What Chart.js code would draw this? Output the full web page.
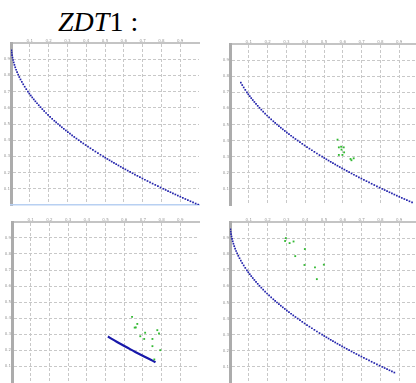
<!DOCTYPE html>
<html>
<head>
<meta charset="utf-8">
<script src="https://cdn.jsdelivr.net/npm/chart.js@4"></script>
<style>
  html, body { margin: 0; padding: 0; background: #fff; overflow: hidden; width: 416px; height: 383px; }
  #title { position: absolute; left: 58px; top: 8px; font-family: "Liberation Serif", "Times New Roman", serif;
           font-size: 28px; line-height: 28px; color: #000; white-space: pre; }
  #title i { font-style: italic; }
  canvas { position: absolute; }
</style>
</head>
<body>
<div id="title"><i>ZDT</i>1 :</div>
<canvas id="p1"></canvas>
<canvas id="p2"></canvas>
<canvas id="p3"></canvas>
<canvas id="p4"></canvas>
<script>
// ZDT1 Pareto front samples (f1, f2)
const frontF1 = [
  0.0020, 0.0036, 0.0056, 0.0081, 0.0110, 0.0144, 0.0182, 0.0225, 0.0272, 0.0324,
  0.0380, 0.0441, 0.0506, 0.0576, 0.0650, 0.0729, 0.0812, 0.0900,
  0.0973, 0.1050, 0.1129, 0.1211, 0.1296, 0.1384, 0.1475, 0.1568, 0.1665, 0.1764,
  0.1866, 0.1971, 0.2079, 0.2190, 0.2304, 0.2401, 0.2500,
  0.2601, 0.2704, 0.2809, 0.2916, 0.3025, 0.3136, 0.3249, 0.3364, 0.3481, 0.3600,
  0.3721, 0.3844, 0.3969, 0.4096, 0.4225, 0.4356, 0.4489, 0.4624, 0.4761, 0.4900,
  0.5013, 0.5127, 0.5242, 0.5358, 0.5476, 0.5595, 0.5715, 0.5837, 0.5960, 0.6084,
  0.6209, 0.6336, 0.6464, 0.6593, 0.6724, 0.6856, 0.6989, 0.7123, 0.7259, 0.7396,
  0.7534, 0.7674, 0.7815, 0.7957, 0.8100,
  0.8226, 0.8354, 0.8482, 0.8612, 0.8742, 0.8874, 0.9006, 0.9139, 0.9274, 0.9409,
  0.9545, 0.9683, 0.9821, 0.9960
];
const frontF2 = [
  0.955, 0.940, 0.925, 0.910, 0.895, 0.880, 0.865, 0.850, 0.835, 0.820,
  0.805, 0.790, 0.775, 0.760, 0.745, 0.730, 0.715, 0.700,
  0.688, 0.676, 0.664, 0.652, 0.640, 0.628, 0.616, 0.604, 0.592, 0.580,
  0.568, 0.556, 0.544, 0.532, 0.520, 0.510, 0.500,
  0.490, 0.480, 0.470, 0.460, 0.450, 0.440, 0.430, 0.420, 0.410, 0.400,
  0.390, 0.380, 0.370, 0.360, 0.350, 0.340, 0.330, 0.320, 0.310, 0.300,
  0.292, 0.284, 0.276, 0.268, 0.260, 0.252, 0.244, 0.236, 0.228, 0.220,
  0.212, 0.204, 0.196, 0.188, 0.180, 0.172, 0.164, 0.156, 0.148, 0.140,
  0.132, 0.124, 0.116, 0.108, 0.100,
  0.093, 0.086, 0.079, 0.072, 0.065, 0.058, 0.051, 0.044, 0.037, 0.030,
  0.023, 0.016, 0.009, 0.002
];

// f1 span of the front shown in each panel
const rangeP1 = [0.0, 1.0];
const rangeP2 = [0.055, 0.975];
const rangeP3 = [0.51, 0.78];
const rangeP4 = [0.0, 0.88];

// Reference points (green)
const greenP2F1 = [0.572, 0.579, 0.591, 0.605, 0.593, 0.607, 0.579, 0.598, 0.641, 0.646, 0.658];
const greenP2F2 = [0.406, 0.358, 0.362, 0.358, 0.344, 0.327, 0.311, 0.311, 0.286, 0.278, 0.290];
const greenP3F1 = [0.642, 0.670, 0.656, 0.662, 0.686, 0.712, 0.707, 0.751, 0.777, 0.786, 0.751, 0.793, 0.761];
const greenP3F2 = [0.407, 0.363, 0.340, 0.341, 0.286, 0.308, 0.269, 0.269, 0.324, 0.303, 0.224, 0.199, 0.141];
const greenP4F1 = [0.297, 0.293, 0.317, 0.338, 0.398, 0.347, 0.396, 0.452, 0.499, 0.462];
const greenP4F2 = [0.900, 0.882, 0.869, 0.879, 0.832, 0.788, 0.733, 0.718, 0.735, 0.645];

const tickLabels = ['0.1', '0.2', '0.3', '0.4', '0.5', '0.6', '0.7', '0.8', '0.9'];

// Layout of each plot area on the page
const LEFT_W = 10, TOP_H = 8, PAD_R = 2, PAD_B = 3;
const GRID = '#c8c8c8';
const BLUE = '#2424ac';
const GREEN = '#34ba34';

function pairs(xs, ys) { return xs.map((x, i) => ({ x: x, y: ys[i] })); }

function makePanel(cfg) {
  const cv = document.getElementById(cfg.id);
  const W = LEFT_W + cfg.w + PAD_R, H = TOP_H + cfg.h + PAD_B;
  cv.width = W; cv.height = H;
  cv.style.width = W + 'px'; cv.style.height = H + 'px';
  cv.style.left = (cfg.x - LEFT_W) + 'px';
  cv.style.top = (cfg.y - TOP_H) + 'px';

  const front = pairs(frontF1, frontF2).filter(p => p.x >= cfg.range[0] && p.x <= cfg.range[1]);
  const datasets = [];
  if (cfg.asLine) {
    datasets.push({ data: front, showLine: true, borderColor: '#1818aa', borderWidth: 2.2,
                    pointRadius: 0, fill: false, order: 2 });
  } else {
    datasets.push({ data: front, showLine: false, pointStyle: 'rect', pointRadius: 1.2,
                    backgroundColor: BLUE, borderWidth: 0, order: 2 });
  }
  if (cfg.green) {
    datasets.push({ data: pairs(cfg.green[0], cfg.green[1]), showLine: false, pointStyle: 'rect',
                    pointRadius: 1.3, backgroundColor: GREEN, borderWidth: 0, order: 1 });
  }

  const inner = c => c.tick && c.tick.value > 0.001 && c.tick.value < 0.999;
  const label = v => { const k = Math.round(v * 10); return (k >= 1 && k <= 9) ? tickLabels[k - 1] : ''; };
  const tickFont = { family: 'DejaVu Sans', size: 4 };

  const scales = {
    x: {
      type: 'linear', position: 'top', min: 0, max: 1,
      ticks: { stepSize: 0.1, autoSkip: false, maxRotation: 0, font: tickFont, color: '#9a9a9a',
               padding: 0, callback: label },
      grid: { color: c => inner(c) ? GRID : 'transparent', lineWidth: 1, drawTicks: false },
      border: { display: true, color: '#c4c4c4', width: 2, dash: [3, 2] },
      afterFit: s => { s.height = TOP_H; }
    },
    y: {
      type: 'linear', position: 'left', min: 0, max: 1,
      ticks: { stepSize: 0.1, autoSkip: false, font: tickFont, color: '#9a9a9a',
               padding: 1, callback: label },
      grid: { color: c => inner(c) ? GRID : 'transparent', lineWidth: 1, drawTicks: false },
      border: { display: true, color: '#acacac', width: 3, dash: [3, 2] },
      afterFit: s => { s.width = LEFT_W; }
    }
  };
  if (cfg.bottomLine) {
    scales.x2 = {
      type: 'linear', position: 'bottom', min: 0, max: 1, display: true,
      ticks: { display: false }, grid: { display: false, drawTicks: false },
      border: { display: true, color: '#b8d0f2', width: 1.5 },
      afterFit: s => { s.height = 0; }
    };
  }

  new Chart(cv, {
    type: 'scatter',
    data: { datasets: datasets },
    options: {
      responsive: false, animation: false, devicePixelRatio: 1, events: [],
      layout: { padding: { left: 0, top: 0, right: PAD_R, bottom: PAD_B } },
      plugins: { legend: { display: false }, tooltip: { enabled: false } },
      scales: scales
    }
  });
}

makePanel({ id: 'p1', x: 11,  y: 43,  w: 190, h: 163, range: rangeP1, bottomLine: true });
makePanel({ id: 'p2', x: 230, y: 44,  w: 190, h: 162, range: rangeP2, green: [greenP2F1, greenP2F2] });
makePanel({ id: 'p3', x: 12,  y: 222, w: 189, h: 161, range: rangeP3, asLine: true, green: [greenP3F1, greenP3F2] });
makePanel({ id: 'p4', x: 230, y: 222, w: 190, h: 162, range: rangeP4, green: [greenP4F1, greenP4F2] });
</script>
</body>
</html>
